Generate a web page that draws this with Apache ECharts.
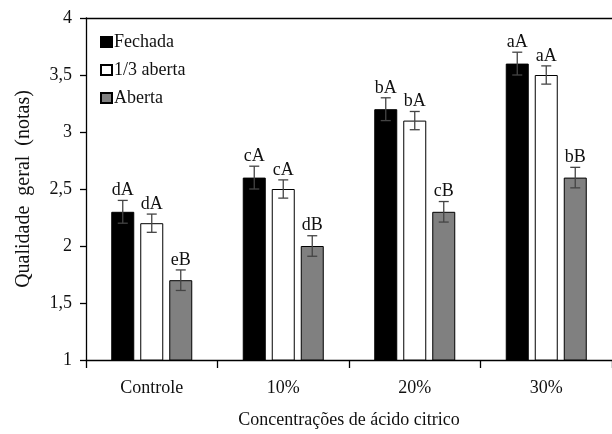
<!DOCTYPE html>
<html>
<head>
<meta charset="utf-8">
<script src="https://cdn.jsdelivr.net/npm/echarts@6/dist/echarts.min.js"></script>
<style>
  html, body { margin: 0; padding: 0; background: #fff; }
  #chart { width: 612px; height: 434px; }
</style>
</head>
<body>
<div id="chart"></div>
<script>
// Overall quality scores by citric acid concentration and opening level
const categories = ['Controle', '10%', '20%', '30%'];
const seriesNames = ['Fechada', '1/3 aberta', 'Aberta'];

const fechada = [2.3, 2.6, 3.2, 3.6];
const terceiroAberta = [2.2, 2.5, 3.1, 3.5];
const aberta = [1.7, 2.0, 2.3, 2.6];

const errFechada = [0.1, 0.1, 0.1, 0.1];
const errTerceiro = [0.08, 0.08, 0.08, 0.08];
const errAberta = [0.09, 0.09, 0.09, 0.09];

const lblFechada = ['dA', 'cA', 'bA', 'aA'];
const lblTerceiro = ['dA', 'cA', 'bA', 'aA'];
const lblAberta = ['eB', 'dB', 'cB', 'bB'];

const yTicks = [1, 1.5, 2, 2.5, 3, 3.5, 4];

const FONT = 'Liberation Serif';
const BAR_W = 23;
const BAR_GAP = 6;

const values = [fechada, terceiroAberta, aberta];
const errors = [errFechada, errTerceiro, errAberta];
const letters = [lblFechada, lblTerceiro, lblAberta];
const fills = ['#000000', '#ffffff', '#808080'];

const barSeries = seriesNames.map((name, i) => ({
  name: name,
  type: 'bar',
  data: values[i],
  barWidth: BAR_W,
  barGap: (BAR_GAP / BAR_W * 100) + '%',
  itemStyle: { color: fills[i], borderColor: '#000', borderWidth: 1 },
  z: 2
}));

// error bars with significance letters, drawn over each bar
const errSeries = seriesNames.map((name, i) => ({
  type: 'custom',
  name: name + '-err',
  data: values[i].map((v, k) => [k, v, errors[i][k], letters[i][k]]),
  z: 5,
  silent: true,
  renderItem: function (params, api) {
    const k = api.value(0);
    const v = api.value(1);
    const e = api.value(2);
    const off = (i - 1) * (BAR_W + BAR_GAP);
    const top = api.coord([k, v + e]);
    const bot = api.coord([k, v - e]);
    const x = top[0] + off;
    const cap = 5;
    const st = { stroke: '#444', lineWidth: 1.3 };
    return {
      type: 'group',
      children: [
        { type: 'line', shape: { x1: x, y1: top[1], x2: x, y2: bot[1] }, style: st },
        { type: 'line', shape: { x1: x - cap, y1: top[1], x2: x + cap, y2: top[1] }, style: st },
        { type: 'line', shape: { x1: x - cap, y1: bot[1], x2: x + cap, y2: bot[1] }, style: st },
        {
          type: 'text',
          style: {
            text: letters[i][k],
            x: x,
            y: top[1] - 1,
            align: 'center',
            verticalAlign: 'bottom',
            fontFamily: FONT,
            fontSize: 18,
            fill: '#111'
          }
        }
      ]
    };
  }
}));

const chart = echarts.init(document.getElementById('chart'), null, { renderer: 'canvas' });
chart.setOption({
  backgroundColor: '#ffffff',
  animation: false,
  grid: { left: 86, top: 18, right: 0, bottom: 71, containLabel: false },
  legend: {
    data: seriesNames,
    orient: 'vertical',
    left: 95,
    top: 28,
    itemWidth: 11,
    itemHeight: 10,
    itemGap: 10,
    icon: 'rect',
    textStyle: { fontFamily: FONT, fontSize: 18, color: '#111', lineHeight: 18, padding: [0, 0, 0, -3] }
  },
  xAxis: [
    {
      type: 'category',
      data: categories,
      position: 'bottom',
      axisLine: { show: true, lineStyle: { color: '#000', width: 1.3 } },
      axisTick: { show: true, alignWithLabel: false, length: 8, lineStyle: { color: '#000', width: 1.3 } },
      axisLabel: { fontFamily: FONT, fontSize: 18, color: '#111', margin: 19 },
      name: 'Concentrações de ácido citrico',
      nameLocation: 'middle',
      nameGap: 51,
      nameTextStyle: { fontFamily: FONT, fontSize: 18, color: '#111' }
    },
    {
      type: 'category',
      data: categories,
      position: 'top',
      axisLine: { show: true, lineStyle: { color: '#000', width: 1.3 } },
      axisTick: { show: false },
      axisLabel: { show: false }
    }
  ],
  yAxis: {
    type: 'value',
    min: yTicks[0],
    max: yTicks[yTicks.length - 1],
    interval: 0.5,
    axisLine: { show: true, lineStyle: { color: '#000', width: 1.3 } },
    axisTick: { show: true, length: 6, lineStyle: { color: '#000', width: 1.3 } },
    splitLine: { show: false },
    axisLabel: {
      fontFamily: FONT, fontSize: 18, color: '#111', margin: 14,
      formatter: v => String(v).replace('.', ',')
    },
    name: 'Qualidade  geral  (notas)',
    nameLocation: 'middle',
    nameGap: 52,
    nameTextStyle: { fontFamily: FONT, fontSize: 20, color: '#111' }
  },
  series: barSeries.concat(errSeries)
});
</script>
</body>
</html>
